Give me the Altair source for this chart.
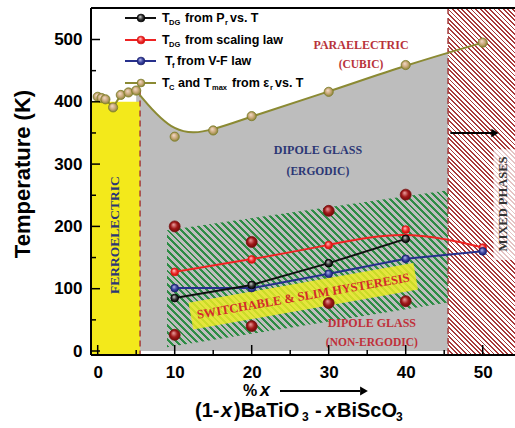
import altair as alt
import pandas as pd

# ---------------- data ----------------
tc_x = [0, 0.5, 1, 2, 3, 4, 5, 10, 15, 20, 30, 40, 50]
tc_y = [408, 406, 404, 391, 411, 415, 418, 344, 354, 377, 416, 459, 495]
pr_x = [10, 20, 30, 40]
pr_y = [85, 106, 141, 180]
scal_x = [10, 20, 30, 40, 50]
scal_y = [127, 147, 170, 195, 166]
vf_x = [10, 20, 30, 40, 50]
vf_y = [101, 101, 124, 148, 160]
bound_x = [10, 20, 30, 40, 10, 20, 30, 40]
bound_y = [200, 175, 225, 251, 26, 40, 77, 80]

fe_boundary = 5.5
fe_top = 400
fe_line_top = 418
mixed_boundary = 45.5
switch_x = [9, 45.5]
switch_lo = [6, 78]
switch_hi = [194, 258]
band_x = [12.1, 41.3]
band_y = [56, 120]
arrow_x = [45.8, 51.6]
arrow_y = 350
mixed_box_x = [51.4]
mixed_box_y = [146, 324]

x_ticks = [0, 10, 20, 30, 40, 50]
x_minor = [5, 15, 25, 35, 45]
y_ticks = [0, 100, 200, 300, 400, 500]
y_minor = [50, 150, 250, 350, 450]

# ---------------- layout ----------------
LEFT, TOP = 91, 8
W, H = 424, 347
PXU, PYU = 7.7, 0.623          # pixels per data unit
XMIN = -0.87
XMAX = XMIN + W / PXU
YMIN = -6.42
YMAX = YMIN + H / PYU

CYAN, GRAY, YELLOW = "#6cc5d6", "#bdbdbd", "#f3e91b"
OLIVE, NAVY_T, RED_T = "#8b8a33", "#2b3775", "#b8323a"


def px(x):
    return (x - XMIN) * PXU


def py(y):
    return H - (y - YMIN) * PYU


def dx(abs_px):
    return XMIN + (abs_px - LEFT) / PXU


def dy(abs_py):
    return YMIN + (TOP + H - abs_py) / PYU


xs = alt.Scale(domain=[XMIN, XMAX], nice=False, zero=False)
ys = alt.Scale(domain=[YMIN, YMAX], nice=False, zero=False)
lab = dict(title=None, domain=False, ticks=False, grid=False, labelFontSize=17,
           labelFont="Liberation Sans", labelFontWeight="bold", labelColor="black",
           labelPadding=9, labelFlush=False)
x_axis = alt.Axis(values=x_ticks, **lab)
y_axis = alt.Axis(values=y_ticks, **lab)


def X(f):
    return alt.X(f, type="quantitative", scale=xs, axis=x_axis)


def Y(f):
    return alt.Y(f, type="quantitative", scale=ys, axis=y_axis)


def stripes(c_line, c_gap, n, frac, bw, bh):
    k = (bw + bh) / (bw ** 2 + bh ** 2)
    stops = []
    for i in range(n):
        a, b, c = i / n, (i + frac) / n, (i + 1) / n
        stops += [alt.GradientStop(offset=round(a, 5), color=c_line),
                  alt.GradientStop(offset=round(b, 5), color=c_line),
                  alt.GradientStop(offset=round(b, 5), color=c_gap),
                  alt.GradientStop(offset=round(c, 5), color=c_gap)]
    return alt.LinearGradient(gradient="linear", stops=stops,
                              x1=0, y1=1, x2=bw * k, y2=1 - bh * k)


def sphere(light, base, dark):
    return alt.RadialGradient(gradient="radial",
                              stops=[alt.GradientStop(offset=0, color=light),
                                     alt.GradientStop(offset=0.55, color=base),
                                     alt.GradientStop(offset=1, color=dark)],
                              x1=0.38, y1=0.32, r1=0, x2=0.5, y2=0.5, r2=0.55)


layers = []

# gray (dipole glass) region under the Tc curve
curve = pd.DataFrame({"x": tc_x[6:], "y": tc_y[6:]})
layers.append(alt.Chart(curve).mark_area(interpolate="basis", color=GRAY, opacity=1)
              .encode(x=X("x"), y=Y("y"), y2=alt.value(H)))

# mixed-phase hatched region
bw_r = W - px(mixed_boundary)
layers.append(alt.Chart(pd.DataFrame({"x": [mixed_boundary]}))
              .mark_rect(fill=stripes("#a83a3a", "#ffffff", 90, 0.42, bw_r, H), strokeWidth=0)
              .encode(x=X("x"), x2=alt.value(W), y=alt.value(0), y2=alt.value(H)))
layers.append(alt.Chart(pd.DataFrame({"x": mixed_box_x, "y": [mixed_box_y[0]], "y2": [mixed_box_y[1]]}))
              .mark_rect(color="white", opacity=0.7)
              .encode(x=X("x"), x2=alt.value(W), y=Y("y"), y2=alt.Y2("y2")))

# ferroelectric region
layers.append(alt.Chart(pd.DataFrame({"x": [fe_boundary], "y": [fe_top]}))
              .mark_rect(color=YELLOW)
              .encode(x=X("x"), x2=alt.value(0), y=Y("y"), y2=alt.value(H)))

# switchable hatched region
bw_g = px(switch_x[1]) - px(switch_x[0])
bh_g = py(min(switch_lo)) - py(max(switch_hi))
sw = pd.DataFrame({"x": switch_x, "lo": switch_lo, "hi": switch_hi})
layers.append(alt.Chart(sw).mark_area(fill=stripes("#2e8c45", "rgba(190,190,190,0)", 64, 0.42, bw_g, bh_g),
                                      strokeWidth=0, opacity=1)
              .encode(x=X("x"), y=Y("lo"), y2=alt.Y2("hi")))

# yellow band behind "Switchable & slim hysteresis"
layers.append(alt.Chart(pd.DataFrame({"x": band_x, "y": band_y}))
              .mark_line(color="#eeee22", strokeWidth=27, strokeCap="butt", opacity=0.82)
              .encode(x=X("x"), y=Y("y")))

# dashed phase boundaries
layers.append(alt.Chart(pd.DataFrame({"x": [fe_boundary], "y": [fe_line_top]}))
              .mark_rule(color="#a33a3a", strokeDash=[6, 4], strokeWidth=1.5)
              .encode(x=X("x"), y=Y("y"), y2=alt.value(H)))
layers.append(alt.Chart(pd.DataFrame({"x": [mixed_boundary]}))
              .mark_rule(color="#a33a3a", strokeDash=[6, 4], strokeWidth=1.5)
              .encode(x=X("x"), y=alt.value(0), y2=alt.value(H)))

# arrow in the mixed-phase region
layers.append(alt.Chart(pd.DataFrame({"x": [arrow_x[0]], "x2": [arrow_x[1]], "y": [arrow_y]}))
              .mark_rule(color="black", strokeWidth=2)
              .encode(x=X("x"), x2=alt.X2("x2"), y=Y("y")))
layers.append(alt.Chart(pd.DataFrame({"x": [arrow_x[1]], "y": [arrow_y]}))
              .mark_point(shape="triangle-right", filled=True, color="black", size=70, opacity=1)
              .encode(x=X("x"), y=Y("y")))

# series lines
fe = pd.DataFrame({"x": tc_x[:7], "y": tc_y[:7]})
layers.append(alt.Chart(fe).mark_line(color=OLIVE, strokeWidth=2).encode(x=X("x"), y=Y("y")))
layers.append(alt.Chart(curve).mark_line(color=OLIVE, strokeWidth=2, interpolate="basis")
              .encode(x=X("x"), y=Y("y")))
pr = pd.DataFrame({"x": pr_x, "y": pr_y})
sc = pd.DataFrame({"x": scal_x, "y": scal_y})
vf = pd.DataFrame({"x": vf_x, "y": vf_y})
layers.append(alt.Chart(sc).mark_line(color="#ee2222", strokeWidth=2, interpolate="basis")
              .encode(x=X("x"), y=Y("y")))
layers.append(alt.Chart(vf).mark_line(color="#27308c", strokeWidth=2).encode(x=X("x"), y=Y("y")))
layers.append(alt.Chart(pr).mark_line(color="#111111", strokeWidth=2).encode(x=X("x"), y=Y("y")))

# markers
S_BLACK = sphere("#d8d8d8", "#333333", "#000000")
S_RED = sphere("#ffd6d6", "#f03030", "#c80000")
S_BLUE = sphere("#c0c0f0", "#3a44a0", "#1a2070")
S_OLIVE = sphere("#f6dccd", "#c8a878", "#7e7d2a")
S_DRED = sphere("#f0a8a8", "#a01818", "#6a0808")


def pts(df, fill, size, stroke):
    return (alt.Chart(df).mark_point(filled=True, fill=fill, stroke=stroke, strokeWidth=0.8,
                                     size=size, opacity=1)
            .encode(x=X("x"), y=Y("y")))


layers.append(pts(pd.DataFrame({"x": bound_x, "y": bound_y}), S_DRED, 120, "#7a1010"))
layers.append(pts(pd.DataFrame({"x": tc_x, "y": tc_y}), S_OLIVE, 85, "#7e7d2a"))
layers.append(pts(sc, S_RED, 60, "#e01818"))
layers.append(pts(vf, S_BLUE, 60, "#1a2070"))
layers.append(pts(pr, S_BLACK, 60, "#000000"))


# ---------------- text ----------------
def texts(rows, **mk):
    df = pd.DataFrame(rows, columns=["t", "x", "y", "s"])
    base = dict(baseline="middle")
    base.update(mk)
    return (alt.Chart(df).mark_text(**base)
            .encode(x=X("x"), y=Y("y"), text="t:N",
                    size=alt.Size("s:Q", scale=None, legend=None)))


SERIF = dict(font="Liberation Serif", fontWeight="bold", align="center")
layers.append(texts([("PARAELECTRIC", 34.2, 491, 12), ("(CUBIC)", 34.2, 459, 11.5)],
                    color=RED_T, **SERIF))
layers.append(texts([("DIPOLE GLASS", 28.6, 323, 12), ("(ERGODIC)", 28.6, 287, 11.5)],
                    color=NAVY_T, **SERIF))
layers.append(texts([("DIPOLE GLASS", 35.6, 45, 12), ("(NON-ERGODIC)", 35.6, 13, 11.5)],
                    color="#c0303a", **SERIF))
layers.append(texts([("FERROELECTRIC", 2.3, 186, 13.5)], color=NAVY_T, angle=270, **SERIF))
layers.append(texts([("MIXED PHASES", 52.6, 236, 12.5)], color="#333333", angle=270, **SERIF))
layers.append(texts([("SWITCHABLE & SLIM HYSTERESIS", 26.7, 88, 12.5)], color="#d42a2a",
                    angle=350, **SERIF))

# legend
row_y = [18, 40, 61, 83]
leg_colors = ["#111111", "#ee2222", "#27308c", OLIVE]
leg_spheres = [S_BLACK, S_RED, S_BLUE, S_OLIVE]
leg_strokes = ["#000000", "#e01818", "#1a2070", "#7e7d2a"]
leg_lines = pd.DataFrame({"x": [dx(125)] * 4, "x2": [dx(156)] * 4,
                          "y": [dy(r) for r in row_y], "c": leg_colors})
layers.append(alt.Chart(leg_lines).mark_rule(strokeWidth=2)
              .encode(x=X("x"), x2=alt.X2("x2"), y=Y("y"),
                      color=alt.Color("c:N", scale=None, legend=None)))
for r, sp, st in zip(row_y, leg_spheres, leg_strokes):
    layers.append(pts(pd.DataFrame({"x": [dx(141)], "y": [dy(r)]}), sp, 60, st))

SANS = dict(font="Liberation Sans", fontWeight="bold", align="left", color="black")
M, SB = 12.5, 7.5
leg_main = [("T", 162, 18), ("from P", 185, 18), ("vs. T", 230, 18),
            ("T", 162, 40), ("from scaling law", 185, 40),
            ("T", 165, 61), ("from V-F law", 177, 61),
            ("T", 162, 83), ("and T", 178, 83), ("from ε", 232, 83), ("vs. T", 275, 83)]
leg_sub = [("DG", 169, 22.5), ("r", 225, 22.5), ("DG", 169, 44.5), ("f", 172, 65.5),
           ("C", 169, 87.5), ("max", 212, 87.5), ("r", 270, 87.5)]
layers.append(texts([(t, dx(a), dy(b), M) for t, a, b in leg_main], **SANS))
layers.append(texts([(t, dx(a), dy(b), SB) for t, a, b in leg_sub], **SANS))

# axis titles
L1, L2, L2S = 391, 411, 417
layers.append(texts([("Temperature (K)", dx(23), dy(174), 22)], font="Liberation Sans",
                    fontWeight="bold", align="center", color="black", angle=270))
x_title = [("%", 243, L1, 16), ("(1-", 195, L2, 20), (")BaTiO", 234, L2, 20),
           ("-", 315, L2, 20), ("BiScO", 337, L2, 20),
           ("3", 302, L2S, 12), ("3", 396, L2S, 12)]
x_title_it = [("x", 260, L1, 18), ("x", 221, L2, 20), ("x", 325, L2, 20)]
layers.append(texts([(t, dx(a), dy(b), s) for t, a, b, s in x_title], **SANS))
layers.append(texts([(t, dx(a), dy(b), s) for t, a, b, s in x_title_it], fontStyle="italic", **SANS))
layers.append(alt.Chart(pd.DataFrame({"x": [dx(280)], "x2": [dx(360)], "y": [dy(L1)]}))
              .mark_rule(color="black", strokeWidth=1.8)
              .encode(x=X("x"), x2=alt.X2("x2"), y=Y("y")))
layers.append(alt.Chart(pd.DataFrame({"x": [dx(364)], "y": [dy(L1)]}))
              .mark_point(shape="triangle-right", filled=True, color="black", size=80, opacity=1)
              .encode(x=X("x"), y=Y("y")))

# ---------------- frame and inward ticks ----------------
fr = dict(color="black", strokeWidth=2)
layers.append(alt.Chart(pd.DataFrame({"a": [0]})).mark_rule(**fr)
              .encode(x=alt.value(0), y=alt.value(0), y2=alt.value(H)))
layers.append(alt.Chart(pd.DataFrame({"a": [0]})).mark_rule(**fr)
              .encode(y=alt.value(H), x=alt.value(0), x2=alt.value(W)))
layers.append(alt.Chart(pd.DataFrame({"a": [0]})).mark_rule(**fr)
              .encode(y=alt.value(0), x=alt.value(0), x2=alt.value(W)))
tk = dict(color="black", strokeWidth=1.5)
layers.append(alt.Chart(pd.DataFrame({"v": y_ticks})).mark_rule(**tk)
              .encode(y=Y("v"), x=alt.value(0), x2=alt.value(9)))
layers.append(alt.Chart(pd.DataFrame({"v": y_minor})).mark_rule(**tk)
              .encode(y=Y("v"), x=alt.value(0), x2=alt.value(5)))
layers.append(alt.Chart(pd.DataFrame({"v": x_ticks})).mark_rule(**tk)
              .encode(x=X("v"), y=alt.value(H), y2=alt.value(H - 10)))
layers.append(alt.Chart(pd.DataFrame({"v": x_minor})).mark_rule(**tk)
              .encode(x=X("v"), y=alt.value(H), y2=alt.value(H - 5)))

chart = (alt.layer(*layers)
         .properties(width=W, height=H, autosize=alt.AutoSizeParams(type="none"),
                     padding={"left": LEFT, "top": TOP, "right": 0, "bottom": 428 - TOP - H})
         .configure_view(fill=CYAN, stroke=None)
         .configure(background="white"))

chart.save("out.html", embed_options={"renderer": "svg", "actions": False})
